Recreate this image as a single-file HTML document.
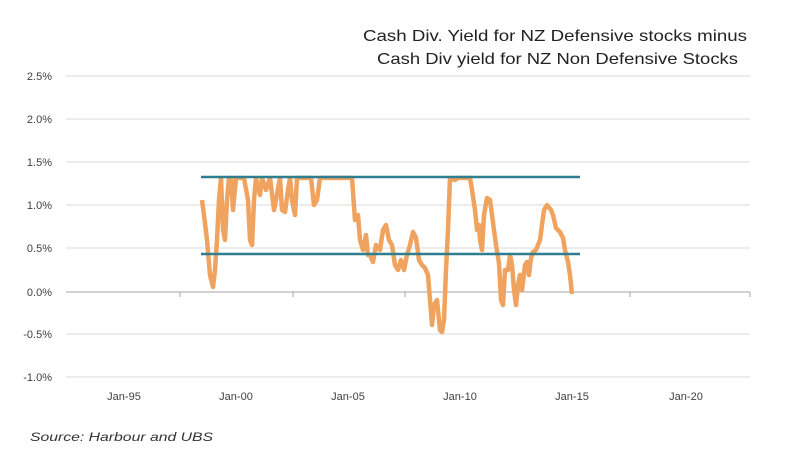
<!DOCTYPE html>
<html><head><style>
body{margin:0;background:#fff;}
svg{display:block;font-family:"Liberation Sans",sans-serif;}
</style></head><body>
<svg width="800" height="461" viewBox="0 0 800 461">
<g stroke="#d9d9d9" stroke-width="1">
<line x1="66" y1="76" x2="750" y2="76"/><line x1="66" y1="119" x2="750" y2="119"/>
<line x1="66" y1="162" x2="750" y2="162"/><line x1="66" y1="205" x2="750" y2="205"/>
<line x1="66" y1="248" x2="750" y2="248"/><line x1="66" y1="334" x2="750" y2="334"/>
<line x1="66" y1="377" x2="750" y2="377"/>
</g>
<g stroke="#a6a6a6" stroke-width="1">
<line x1="66" y1="292" x2="750" y2="292"/>
<line x1="180" y1="292" x2="180" y2="297"/><line x1="293" y1="292" x2="293" y2="297"/>
<line x1="405" y1="292" x2="405" y2="297"/><line x1="517" y1="292" x2="517" y2="297"/>
<line x1="630" y1="292" x2="630" y2="297"/><line x1="750" y1="292" x2="750" y2="297"/>
</g>
<g font-size="11" fill="#404040" text-anchor="end">
<text x="52" y="80">2.5%</text><text x="52" y="123">2.0%</text><text x="52" y="166">1.5%</text>
<text x="52" y="209">1.0%</text><text x="52" y="252">0.5%</text><text x="52" y="296">0.0%</text>
<text x="52" y="338">-0.5%</text><text x="52" y="381">-1.0%</text>
</g>
<g font-size="11" fill="#404040" text-anchor="middle">
<text x="124" y="400">Jan-95</text><text x="236" y="400">Jan-00</text><text x="348" y="400">Jan-05</text>
<text x="460" y="400">Jan-10</text><text x="572" y="400">Jan-15</text><text x="686" y="400">Jan-20</text>
</g>
<polyline fill="none" stroke="#f0a35e" stroke-width="4.5" stroke-linejoin="round" points="202,200 204,215 207,240 210,275 213,287 215,270 217,240 219,200 221,178 223,230 225,240 227,200 229,178 231,178 233,210 236,178 244,178 248,200 250,240 252,245 254,200 256,178 260,195 262,178 266,190 270,178 274,210 276,200 280,178 282,210 285,212 288,190 290,178 292,200 295,215 297,178 300,178 305,178 311,178 314,205 317,200 320,178 352,178 355,220 358,215 360,240 363,250 366,235 368,255 370,255 373,262 376,245 380,250 383,230 386,225 389,240 392,245 395,265 398,270 401,260 404,270 407,255 410,245 413,232 416,238 419,260 422,265 425,268 428,275 430,300 432,325 434,305 437,300 440,330 442,332 444,320 446,270 448,230 450,178 455,180 458,178 470,178 472,190 475,210 477,230 479,225 480,240 482,250 484,215 487,198 490,200 492,215 496,245 499,263 501,300 503,305 505,270 508,270 510,255 512,265 514,290 516,305 518,285 520,275 522,290 525,265 527,262 529,275 531,258 533,252 536,250 540,240 544,210 547,205 551,210 553,215 556,228 560,232 563,238 565,250 568,262 570,275 572,294"/>
<g stroke="#2f7e90" stroke-width="2.5">
<line x1="201" y1="177" x2="580" y2="177"/>
<line x1="201" y1="254" x2="580" y2="254"/>
</g>
<g font-size="16" fill="#222">
<text x="363" y="41" textLength="384" lengthAdjust="spacingAndGlyphs">Cash Div. Yield for NZ Defensive stocks minus</text>
<text x="377" y="64" textLength="361" lengthAdjust="spacingAndGlyphs">Cash Div yield for NZ Non Defensive Stocks</text>
</g>
<text x="30" y="441" font-size="12" font-style="italic" fill="#333" textLength="183" lengthAdjust="spacingAndGlyphs">Source: Harbour and UBS</text>
</svg>
</body></html>
